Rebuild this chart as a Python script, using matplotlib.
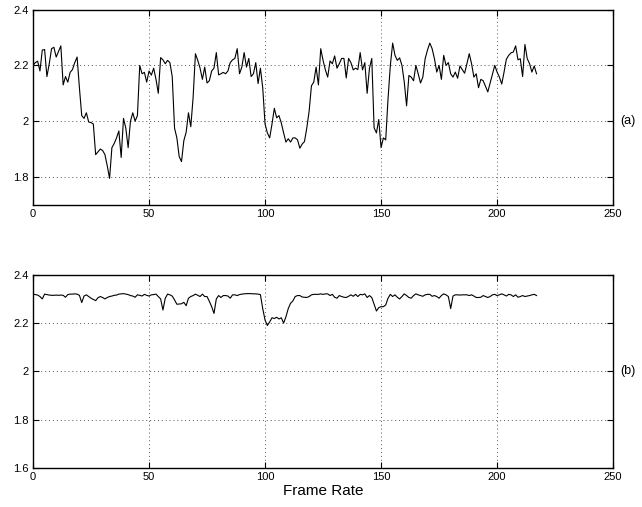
import matplotlib
matplotlib.use("Agg")
import matplotlib.pyplot as plt
import matplotlib.transforms as mtransforms
import numpy as np

plt.rcParams['font.family'] = ['Liberation Sans', 'DejaVu Sans']

# frame index
frames = np.arange(218)

# (a) upper trace
trace_a = [
    2.20, 2.21, 2.215, 2.18, 2.255, 2.257, 2.16, 2.206, 2.26, 2.265,
    2.23, 2.25, 2.27, 2.13, 2.16, 2.14, 2.175, 2.185, 2.21, 2.23,
    2.12, 2.02, 2.01, 2.03, 1.997, 1.995, 1.99, 1.88, 1.89, 1.90,
    1.895, 1.88, 1.84, 1.795, 1.905, 1.92, 1.94, 1.965, 1.87, 2.01,
    1.975, 1.905, 2.0, 2.03, 2.0, 2.02, 2.2, 2.17, 2.175, 2.14,
    2.18, 2.165, 2.19, 2.15, 2.10, 2.228, 2.22, 2.206, 2.218, 2.21,
    2.16, 1.975, 1.94, 1.873, 1.855, 1.93, 1.96, 2.03, 1.98, 2.085,
    2.242, 2.218, 2.19, 2.15, 2.194, 2.137, 2.145, 2.18, 2.19, 2.246,
    2.166, 2.17, 2.175, 2.17, 2.18, 2.21, 2.22, 2.225, 2.26, 2.17,
    2.194, 2.246, 2.194, 2.225, 2.16, 2.17, 2.21, 2.135, 2.19, 2.12,
    1.99, 1.958, 1.94, 1.99, 2.046, 2.012, 2.02, 1.994, 1.958, 1.925,
    1.937, 1.925, 1.94, 1.94, 1.933, 1.903, 1.918, 1.927, 1.976, 2.036,
    2.127, 2.14, 2.194, 2.13, 2.26, 2.218, 2.184, 2.158, 2.216, 2.206,
    2.234, 2.19, 2.206, 2.225, 2.225, 2.155, 2.225, 2.21, 2.184, 2.19,
    2.185, 2.246, 2.184, 2.21, 2.10, 2.19, 2.225, 1.976, 1.958, 2.006,
    1.905, 1.94, 1.933, 2.08, 2.2, 2.28, 2.236, 2.218, 2.227, 2.2,
    2.14, 2.055, 2.164, 2.158, 2.145, 2.2, 2.17, 2.137, 2.158, 2.224,
    2.255, 2.28, 2.26, 2.224, 2.176, 2.2, 2.15, 2.236, 2.2, 2.21,
    2.17, 2.158, 2.176, 2.154, 2.198, 2.185, 2.172, 2.206, 2.242, 2.206,
    2.158, 2.17, 2.12, 2.15, 2.145, 2.125, 2.105, 2.137, 2.17, 2.2,
    2.176, 2.158, 2.133, 2.176, 2.222, 2.236, 2.245, 2.248, 2.27, 2.22,
    2.224, 2.16, 2.275, 2.224, 2.206, 2.176, 2.198, 2.17,
]

# (b) lower trace
trace_b = [
    2.32, 2.318, 2.316, 2.31, 2.30, 2.32, 2.318, 2.316, 2.315, 2.315,
    2.316, 2.315, 2.316, 2.315, 2.307, 2.318, 2.32, 2.32, 2.321, 2.32,
    2.315, 2.285, 2.312, 2.317, 2.31, 2.303, 2.298, 2.293, 2.305, 2.31,
    2.306, 2.30, 2.306, 2.31, 2.312, 2.315, 2.316, 2.32, 2.321, 2.322,
    2.32, 2.318, 2.314, 2.312, 2.307, 2.317, 2.315, 2.312, 2.319, 2.315,
    2.312, 2.317, 2.318, 2.32, 2.31, 2.30, 2.254, 2.303, 2.32, 2.317,
    2.312, 2.296, 2.278, 2.279, 2.28, 2.286, 2.272, 2.303, 2.31, 2.314,
    2.32, 2.315, 2.31, 2.32, 2.31, 2.31, 2.29, 2.268, 2.24, 2.30,
    2.314, 2.306, 2.314, 2.314, 2.312, 2.303, 2.317, 2.317, 2.314, 2.318,
    2.32, 2.321, 2.322, 2.322, 2.322, 2.321, 2.321, 2.32, 2.318, 2.26,
    2.2125, 2.19, 2.205, 2.222, 2.219, 2.224, 2.217, 2.222, 2.2, 2.226,
    2.26, 2.282, 2.292, 2.31, 2.314, 2.314, 2.308, 2.307, 2.306, 2.31,
    2.317, 2.319, 2.319, 2.319, 2.321, 2.319, 2.321, 2.321, 2.314, 2.319,
    2.307, 2.303, 2.314, 2.31, 2.307, 2.306, 2.311, 2.317, 2.311, 2.319,
    2.31, 2.319, 2.317, 2.321, 2.306, 2.314, 2.306, 2.278, 2.25, 2.264,
    2.268, 2.268, 2.275, 2.303, 2.319, 2.31, 2.317, 2.307, 2.30, 2.31,
    2.321, 2.314, 2.306, 2.303, 2.314, 2.321, 2.317, 2.314, 2.311, 2.317,
    2.319, 2.319, 2.311, 2.314, 2.31, 2.303, 2.314, 2.321, 2.317, 2.31,
    2.26, 2.312, 2.317, 2.317, 2.316, 2.317, 2.317, 2.317, 2.314, 2.317,
    2.312, 2.306, 2.306, 2.307, 2.314, 2.31, 2.306, 2.31, 2.317, 2.319,
    2.314, 2.317, 2.321, 2.317, 2.312, 2.319, 2.317, 2.31, 2.317, 2.307,
    2.31, 2.314, 2.31, 2.312, 2.314, 2.317, 2.319, 2.314,
]

x_ticks = [0, 50, 100, 150, 200, 250]
ticks_a = [1.8, 2.0, 2.2, 2.4]
ticks_b = [1.6, 1.8, 2.0, 2.2, 2.4]


def fmt(v):
    return ('%g' % v)


def style_axis(ax, yticks, ylim, tag):
    ax.set_xlim(0, 250)
    ax.set_ylim(*ylim)
    ax.set_xticks(x_ticks)
    ax.set_xticklabels([fmt(v) for v in x_ticks])
    ax.set_yticks(yticks)
    ax.set_yticklabels([fmt(v) for v in yticks])
    ax.tick_params(direction='in', top=True, right=True, length=4,
                   width=0.8, labelsize=8, pad=3)
    ax.grid(True, linestyle=(0, (1, 3)), color='#555555', linewidth=0.7)
    for s in ax.spines.values():
        s.set_linewidth(1.0)
    trans = mtransforms.blended_transform_factory(ax.transAxes, ax.transData)
    ax.text(1.012, 2.0, tag, transform=trans, fontsize=9,
            ha='left', va='center')


fig = plt.figure(figsize=(6.42, 5.07), dpi=100)
ax1 = fig.add_axes([0.0514, 0.596, 0.9036, 0.385])
ax2 = fig.add_axes([0.0514, 0.077, 0.9036, 0.381])

ax1.plot(frames, trace_a, color='black', linewidth=0.8)
style_axis(ax1, ticks_a, (1.7, 2.4), '(a)')

ax2.plot(frames, trace_b, color='black', linewidth=0.8)
style_axis(ax2, ticks_b, (1.6, 2.4), '(b)')

fig.text(0.5035, 0.018, 'Frame Rate', ha='center', va='bottom', fontsize=11)

fig.savefig('out.png', dpi=100)
